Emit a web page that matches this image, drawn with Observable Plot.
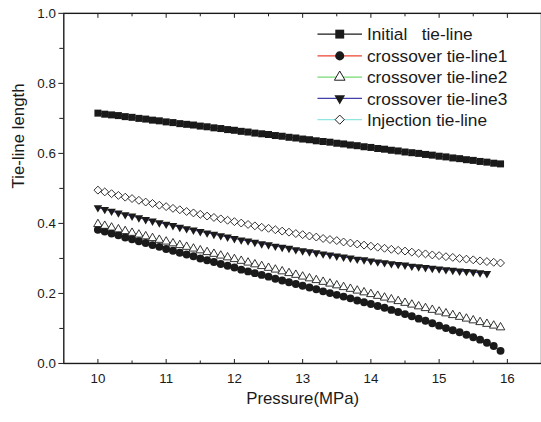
<!DOCTYPE html>
<html><head><meta charset="utf-8">
<script src="https://cdn.jsdelivr.net/npm/d3@7"></script>
<script src="https://cdn.jsdelivr.net/npm/@observablehq/plot@0.6"></script>
<style>
html,body{margin:0;padding:0;background:#fff;overflow:hidden;}
#chart{width:541px;height:422px;overflow:hidden;}
</style></head><body><div id="chart"></div>
<script>
const pressure = [10.0,10.1,10.2,10.3,10.4,10.5,10.6,10.7,10.8,10.9,
  11.0,11.1,11.2,11.3,11.4,11.5,11.6,11.7,11.8,11.9,
  12.0,12.1,12.2,12.3,12.4,12.5,12.6,12.7,12.8,12.9,
  13.0,13.1,13.2,13.3,13.4,13.5,13.6,13.7,13.8,13.9,
  14.0,14.1,14.2,14.3,14.4,14.5,14.6,14.7,14.8,14.9,
  15.0,15.1,15.2,15.3,15.4,15.5,15.6,15.7,15.8,15.9];

const initialTie = [0.715,0.712,0.710,0.708,0.705,0.703,0.700,0.698,0.695,0.693,
  0.690,0.688,0.685,0.683,0.681,0.678,0.676,0.673,0.671,0.668,
  0.666,0.663,0.661,0.658,0.656,0.654,0.651,0.649,0.646,0.644,
  0.641,0.639,0.636,0.634,0.632,0.629,0.627,0.624,0.622,0.619,
  0.617,0.614,0.612,0.609,0.607,0.604,0.602,0.600,0.597,0.595,
  0.592,0.590,0.587,0.585,0.582,0.580,0.577,0.575,0.572,0.570];

const crossover1 = [0.382,0.377,0.371,0.366,0.360,0.355,0.349,0.344,0.338,0.333,
  0.327,0.322,0.316,0.311,0.306,0.300,0.295,0.290,0.284,0.279,
  0.274,0.268,0.263,0.258,0.253,0.248,0.242,0.237,0.232,0.227,
  0.222,0.217,0.212,0.206,0.201,0.196,0.191,0.186,0.180,0.175,
  0.170,0.164,0.159,0.153,0.147,0.141,0.135,0.128,0.122,0.115,
  0.108,0.101,0.095,0.089,0.082,0.075,0.068,0.059,0.050,0.036];

const crossover2 = [0.398,0.393,0.388,0.383,0.378,0.373,0.368,0.363,0.358,0.353,
  0.348,0.343,0.338,0.333,0.328,0.323,0.318,0.313,0.308,0.303,
  0.298,0.293,0.288,0.283,0.278,0.273,0.268,0.263,0.258,0.253,
  0.248,0.243,0.238,0.233,0.228,0.223,0.218,0.213,0.208,0.203,
  0.198,0.193,0.188,0.183,0.178,0.173,0.168,0.163,0.158,0.153,
  0.148,0.143,0.138,0.133,0.128,0.123,0.118,0.113,0.108,0.103];

const crossover3 = [0.445,0.440,0.435,0.430,0.425,0.421,0.416,0.411,0.407,0.402,
  0.398,0.394,0.389,0.385,0.381,0.377,0.373,0.369,0.365,0.361,
  0.357,0.353,0.350,0.346,0.342,0.339,0.335,0.332,0.329,0.325,
  0.322,0.319,0.316,0.313,0.310,0.307,0.304,0.301,0.298,0.296,
  0.293,0.290,0.288,0.285,0.283,0.281,0.278,0.276,0.274,0.272,
  0.270,0.268,0.266,0.264,0.263,0.261,0.259,0.257];

const injectionTie = [0.495,0.490,0.485,0.480,0.475,0.471,0.466,0.461,0.457,0.452,
  0.448,0.443,0.439,0.434,0.430,0.426,0.421,0.417,0.413,0.409,
  0.405,0.401,0.397,0.393,0.389,0.386,0.382,0.378,0.375,0.371,
  0.368,0.364,0.361,0.357,0.354,0.351,0.347,0.344,0.341,0.338,
  0.335,0.332,0.329,0.326,0.323,0.321,0.318,0.315,0.313,0.310,
  0.308,0.305,0.303,0.300,0.298,0.296,0.293,0.291,0.289,0.287];

const xTicks = [10, 11, 12, 13, 14, 15, 16];
const xMinorTicks = [10.5, 11.5, 12.5, 13.5, 14.5, 15.5];
const yTicks = [0.0, 0.2, 0.4, 0.6, 0.8, 1.0];
const yMinorTicks = [0.1, 0.3, 0.5, 0.7, 0.9];
const seriesNames = ["Initial   tie-line", "crossover tie-line1", "crossover tie-line2", "crossover tie-line3", "Injection tie-line"];
const lineColors = ["#1a1a1a", "#ee4433", "#77d977", "#4040a8", "#8fe6e0"];

const ink = "#1a1a1a";
const triangleDown = {
  draw(ctx, size) {
    const s3 = Math.sqrt(3);
    const y = Math.sqrt(size / (s3 * 3));
    ctx.moveTo(0, 2 * y);
    ctx.lineTo(-s3 * y, -y);
    ctx.lineTo(s3 * y, -y);
    ctx.closePath();
  }
};
const toRows = (vals) => vals.map((v, i) => ({p: pressure[i], v}));

const series = [
  {vals: initialTie, color: lineColors[0], symbol: "square", r: 4.0, fill: ink, sw: 0},
  {vals: crossover1, color: lineColors[1], symbol: "circle", r: 4.0, fill: ink, sw: 0},
  {vals: crossover2, color: lineColors[2], symbol: "triangle", r: 3.2, fill: "white", sw: 0.9},
  {vals: crossover3, color: lineColors[3], symbol: triangleDown, r: 3.2, fill: ink, sw: 0},
  {vals: injectionTie, color: lineColors[4], symbol: "diamond2", r: 3.6, fill: "white", sw: 0.9}
];

const marks = [];
for (const s of series) {
  marks.push(Plot.line(toRows(s.vals), {x: "p", y: "v", stroke: s.color, strokeWidth: 1}));
}
for (const s of series) {
  marks.push(Plot.dot(toRows(s.vals), {x: "p", y: "v", symbol: s.symbol, r: s.r, fill: s.fill,
    stroke: s.sw ? ink : "none", strokeWidth: s.sw}));
}

const chart = Plot.plot({
  width: 547,
  height: 422,
  marginLeft: 64,
  marginRight: 0,
  marginTop: 13,
  marginBottom: 55,
  style: {fontFamily: "'Liberation Sans', Arial, sans-serif", fontSize: "13.5px", color: ink, background: "white"},
  x: {domain: [9.5, 16.5], axis: null},
  y: {domain: [0, 1], axis: null},
  marks: [
    ...marks,
    Plot.frame({stroke: ink, strokeWidth: 1.4}),
    Plot.axisY({ticks: yTicks, tickSize: 5, tickPadding: 3, tickFormat: d3.format(".1f"), fontSize: 13.5, label: null}),
    Plot.axisY({ticks: yMinorTicks, tickSize: 4, tickFormat: () => "", label: null}),
    Plot.axisX({ticks: xTicks, tickSize: 0, tickPadding: 10.5, tickFormat: d3.format("d"), fontSize: 13.5, label: null}),
    Plot.axisX({ticks: xTicks, tickSize: 4, dy: -4, tickFormat: () => "", label: null}),
    Plot.axisX({ticks: xMinorTicks, tickSize: 2.5, dy: -2.5, tickFormat: () => "", label: null}),
    Plot.axisX({anchor: "top", ticks: xTicks, tickSize: 4, dy: 4, tickFormat: () => "", label: null}),
    Plot.axisX({anchor: "top", ticks: xMinorTicks, tickSize: 2.5, dy: 2.5, tickFormat: () => "", label: null}),
    Plot.text(["Pressure(MPa)"], {frameAnchor: "bottom", dy: 41, fontSize: 17, fill: ink}),
    Plot.text(["Tie-line length"], {frameAnchor: "left", dx: -46, rotate: -90, fontSize: 17, fill: ink})
  ]
});
document.getElementById("chart").appendChild(chart);

// legend
const svg = d3.select(chart);
const lg = svg.append("g").attr("font-family", "'Liberation Sans', Arial, sans-serif")
  .attr("font-size", 17.5).attr("text-anchor", "start");
const legendSymbols = [d3.symbolSquare, d3.symbolCircle, d3.symbolTriangle, triangleDown, d3.symbolDiamond2];
const legendSizes = [81, 66, 50, 50, 55];
const legendY = [34.5, 56.5, 78, 99.5, 121];
seriesNames.forEach((name, i) => {
  const g = lg.append("g").attr("transform", `translate(0,${legendY[i]})`);
  g.append("line").attr("x1", 321).attr("x2", 366).attr("y1", 0).attr("y2", 0)
    .attr("stroke", lineColors[i]).attr("stroke-width", 1.2);
  const hollow = i === 2 || i === 4;
  g.append("path").attr("transform", "translate(343.5,0)")
    .attr("d", d3.symbol().type(legendSymbols[i]).size(legendSizes[i])())
    .attr("fill", hollow ? "white" : ink).attr("stroke", hollow ? ink : "none").attr("stroke-width", 1);
  g.append("text").attr("x", 371).attr("dy", "0.36em").attr("fill", ink).attr("text-anchor", "start")
    .style("white-space", "pre").text(name);
});
</script>
</body></html>
